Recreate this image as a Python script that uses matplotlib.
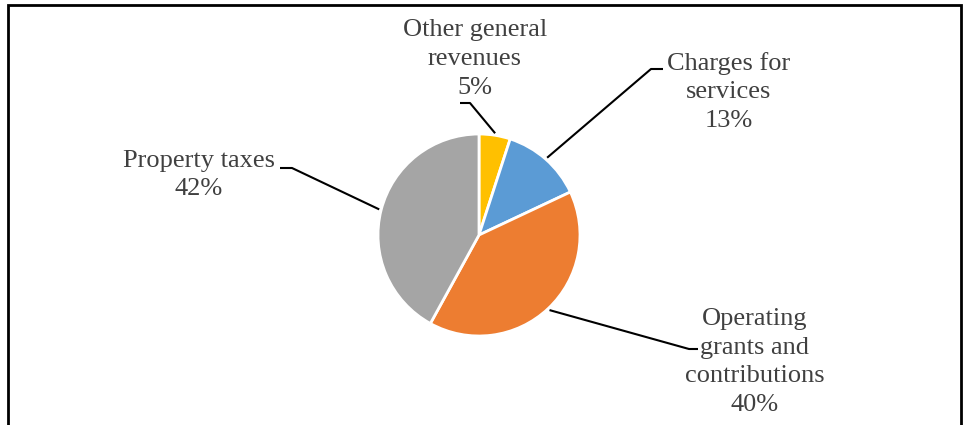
import numpy as np
import matplotlib.pyplot as plt
from matplotlib.patches import Rectangle

# Data
labels = ["Other general\nrevenues", "Charges for\nservices",
          "Operating\ngrants and\ncontributions", "Property taxes"]
shares = [5, 13, 40, 42]
colors = ["#FFC000", "#5B9BD5", "#ED7D31", "#A5A5A5"]

W, H = 967, 425
fig = plt.figure(figsize=(W / 100, H / 100), dpi=100)
ax = fig.add_axes([0, 0, 1, 1])
ax.set_xlim(0, W)
ax.set_ylim(0, H)
ax.set_aspect("equal")
ax.axis("off")

cx, cy, r = 479, H - 235, 101
wedges, _ = ax.pie(shares, colors=colors, startangle=90, counterclock=False,
                   center=(cx, cy), radius=r,
                   wedgeprops=dict(edgecolor="white", linewidth=2))
ax.set_xlim(0, W)
ax.set_ylim(0, H)

# label centre, elbow, line end (pixel coords, y from top)
label_pos = [(475, 59), (729, 92), (755, 362), (199, 175)]
elbows = [((470, 103), (460, 103)), ((651, 69), (663, 69)),
          ((689, 349), (698, 349)), ((292, 168), (280, 168))]

for w, lab, s, (lx, ly), (e1, e2) in zip(wedges, labels, shares, label_pos, elbows):
    ang = np.deg2rad((w.theta1 + w.theta2) / 2)
    ax0 = cx + r * 1.02 * np.cos(ang)
    ay0 = cy + r * 1.02 * np.sin(ang)
    ax.plot([ax0, e1[0], e2[0]], [ay0, H - e1[1], H - e2[1]],
            color="black", lw=1.5, solid_capstyle="butt")
    ax.text(lx, H - ly, f"{lab}\n{s}%", ha="center", va="center",
            multialignment="center", fontsize=19, color="#404040",
            family="Liberation Serif", linespacing=1.4)

# chart frame
ax.add_patch(Rectangle((8, -20), 953, H - 5 + 20, fill=False,
                       edgecolor="black", lw=2, clip_on=False))

fig.savefig("out.png", dpi=100)
